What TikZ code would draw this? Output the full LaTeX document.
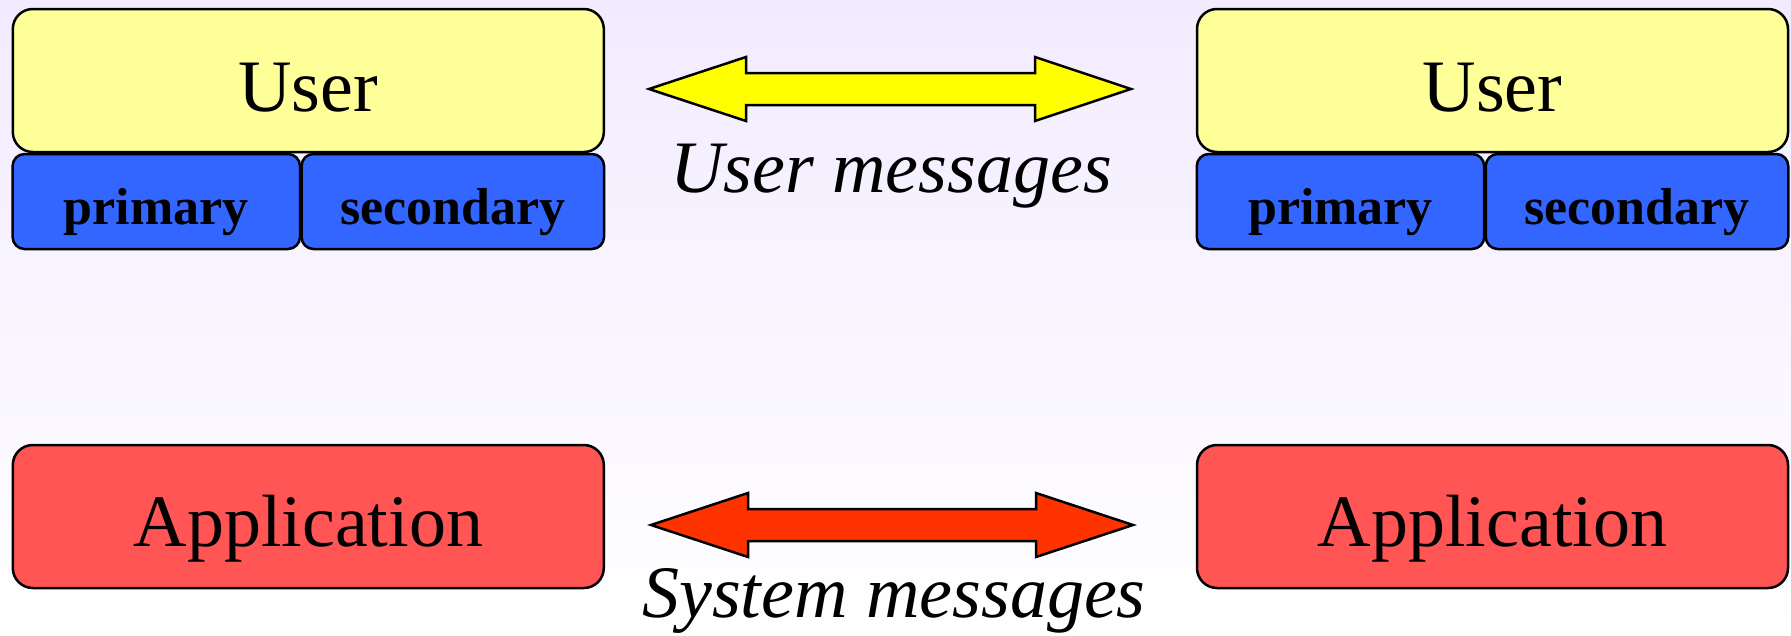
\documentclass[tikz,border=0pt]{standalone}
\usepackage{fontspec}
\setmainfont{Liberation Serif}
\definecolor{bgtop}{RGB}{242,235,255}
\definecolor{userfill}{RGB}{255,255,153}
\definecolor{subfill}{RGB}{51,102,255}
\definecolor{appfill}{RGB}{255,85,85}
\definecolor{uarrow}{RGB}{255,255,0}
\definecolor{sarrow}{RGB}{255,51,0}
\tikzset{
  box/.style={draw=black, line width=2.5pt, rounded corners=20pt, inner sep=0pt},
  userbox/.style={box, fill=userfill, minimum width=591pt, minimum height=143pt},
  subbox/.style={box, fill=subfill, rounded corners=12pt, minimum height=95pt},
  appbox/.style={box, fill=appfill, minimum width=591pt, minimum height=143pt},
  big/.style={font=\fontsize{74}{80}\selectfont},
  bigit/.style={font=\fontsize{74}{80}\selectfont\itshape},
  small/.style={font=\fontsize{52}{56}\selectfont\bfseries},
  fatarrow/.style={draw=black, line width=2.5pt, line join=miter},
}
\begin{document}
\begin{tikzpicture}[x=1pt,y=-1pt]
  % page and soft background
  \useasboundingbox (0,0) rectangle (1791,635);
  \shade[top color=bgtop, bottom color=white] (0,0) rectangle (1791,635);

  % left stack
  \node[userbox] (userL) at (308.3,80.5) {};
  \node[big, anchor=base] (userLt) at (308.3,111) {User};
  \node[subbox, minimum width=287.4pt] (primL) at (156.3,201.5) {};
  \node[small, anchor=base] (primLt) at (156.3,224) {primary};
  \node[subbox, minimum width=302.5pt] (secL) at (452.8,201.5) {};
  \node[small, anchor=base] (secLt) at (452.8,224) {secondary};
  \node[appbox] (appL) at (308.3,516.5) {};
  \node[big, anchor=base] (appLt) at (308.3,546) {Application};

  % right stack
  \node[userbox] (userR) at (1492.5,80.5) {};
  \node[big, anchor=base] (userRt) at (1492.5,111) {User};
  \node[subbox, minimum width=287.4pt] (primR) at (1340.5,201.5) {};
  \node[small, anchor=base] (primRt) at (1340.5,224) {primary};
  \node[subbox, minimum width=302.5pt] (secR) at (1637,201.5) {};
  \node[small, anchor=base] (secRt) at (1637,224) {secondary};
  \node[appbox] (appR) at (1492.5,516.5) {};
  \node[big, anchor=base] (appRt) at (1492.5,546) {Application};

  % user-level exchange
  \draw[fatarrow, fill=uarrow]
    (649,89) -- (746,57) -- (746,73) -- (1035,73) -- (1035,57) -- (1131,89)
    -- (1035,121) -- (1035,105) -- (746,105) -- (746,121) -- cycle;
  \node[bigit, anchor=base] (umsg) at (891,192) {User messages};

  % system-level exchange
  \draw[fatarrow, fill=sarrow]
    (651,525) -- (748,493) -- (748,509) -- (1036,509) -- (1036,493) -- (1133,525)
    -- (1036,557) -- (1036,541) -- (748,541) -- (748,557) -- cycle;
  \node[bigit, anchor=base] (smsg) at (894,617) {System messages};
\end{tikzpicture}
\end{document}
